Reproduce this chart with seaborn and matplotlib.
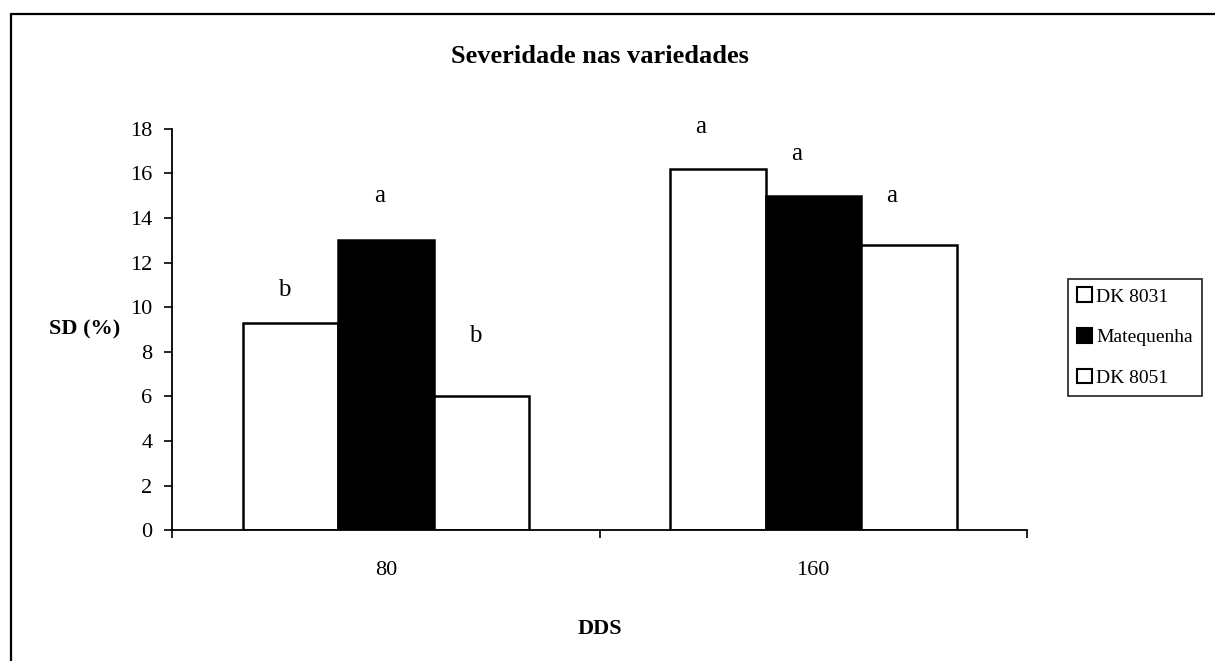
import pandas as pd
import numpy as np
import matplotlib.pyplot as plt
import seaborn as sns
from matplotlib.patches import Patch
from matplotlib.lines import Line2D

# Data
dds = ['80', '160']
variedades = ['DK 8031', 'Matequenha', 'DK 8051']
sev_80 = [9.3, 13.0, 6.0]
sev_160 = [16.2, 15.0, 12.8]
letras_80 = ['b', 'a', 'b']
letras_160 = ['a', 'a', 'a']
# height (in %) where each letter sits
letra_y_80 = [10.3, 14.5, 8.2]
letra_y_160 = [17.6, 16.4, 14.5]

df = pd.DataFrame({
    'DDS': [d for d in dds for _ in variedades],
    'Variedade': variedades * len(dds),
    'SD': sev_80 + sev_160,
})

sns.set_style('white')
plt.rcParams['font.family'] = ['Liberation Serif', 'DejaVu Serif']
plt.rcParams['text.color'] = 'black'
plt.rcParams['xtick.color'] = 'black'
plt.rcParams['ytick.color'] = 'black'
plt.rcParams['axes.labelcolor'] = 'black'

fig = plt.figure(figsize=(12.15, 6.61), dpi=100)
ax = fig.add_axes([0.1416, 0.198, 0.7037, 0.607])

palette = {'DK 8031': 'white', 'Matequenha': 'black', 'DK 8051': 'white'}
sns.barplot(data=df, x='DDS', y='SD', hue='Variedade', order=dds,
            hue_order=variedades, palette=palette, edgecolor='black',
            linewidth=1.8, width=0.67, saturation=1, legend=False, ax=ax)

# significance letters
for i, (letras, ys) in enumerate([(letras_80, letra_y_80), (letras_160, letra_y_160)]):
    for j, (l, yv) in enumerate(zip(letras, ys)):
        xpos = i + (j - 1) * 0.67 / 3 - 0.015 - 0.025 * i
        ax.text(xpos, yv, l, ha='center', va='bottom', fontsize=18)

ax.set_ylim(0, 18)
ax.set_xlim(-0.5, 1.5)
ax.set_yticks(np.arange(0, 19, 2))
ax.set_xticks([-0.5, 0.5, 1.5], minor=True)
ax.tick_params(axis='x', which='major', bottom=True, length=0, pad=22, labelsize=16)
ax.tick_params(axis='x', which='minor', bottom=True, length=6, width=1.2, direction='out')
ax.tick_params(axis='y', left=True, length=6, width=1.2, direction='out', labelsize=16, pad=8)
for s in ['top', 'right']:
    ax.spines[s].set_visible(False)
for s in ['left', 'bottom']:
    ax.spines[s].set_color('black')
    ax.spines[s].set_linewidth(1.3)

ax.set_xlabel('DDS', fontsize=16, fontweight='bold', labelpad=28)
ax.set_ylabel('SD (%)', fontsize=16, fontweight='bold', rotation=0, va='center')
ax.yaxis.set_label_coords(-0.102, 0.5)

fig.text(0.494, 0.915, 'Severidade nas variedades', ha='center', va='center',
         fontsize=19, fontweight='bold')

handles = [Patch(facecolor=palette[v], edgecolor='black', linewidth=1.5, label=v) for v in variedades]
leg = fig.legend(handles=handles, loc='center left', bbox_to_anchor=(0.879, 0.490),
                 frameon=True, fancybox=False, fontsize=14, handlelength=0.8,
                 handleheight=0.8, handletextpad=0.2, borderpad=0.45, labelspacing=1.15,
                 borderaxespad=0)
leg.get_frame().set_edgecolor('black')
leg.get_frame().set_linewidth(1.3)

# chart area frame: only top and left edges show in the scan
fig.add_artist(Line2D([0.009, 1.0], [0.979, 0.979], transform=fig.transFigure,
                      color='black', linewidth=1.6))
fig.add_artist(Line2D([0.009, 0.009], [0.0, 0.979], transform=fig.transFigure,
                      color='black', linewidth=1.6))

fig.savefig('out.png', dpi=100)
